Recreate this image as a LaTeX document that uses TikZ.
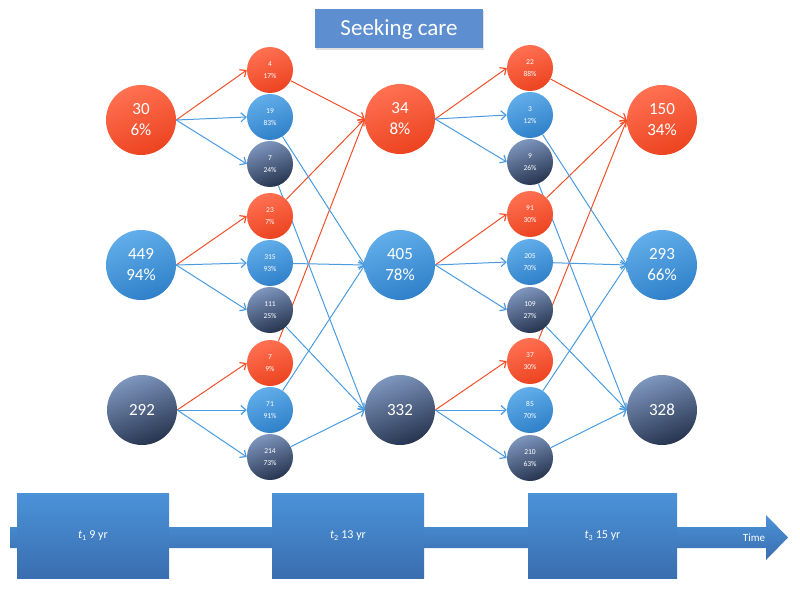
\documentclass[tikz,border=0pt]{standalone}
\usepackage{fontspec}
\setmainfont{Carlito}
\usetikzlibrary{arrows.meta,shadows,backgrounds}
\definecolor{redA}{HTML}{FF7152}
\definecolor{redB}{HTML}{EC4320}
\definecolor{blueA}{HTML}{62AEEA}
\definecolor{blueB}{HTML}{2F80C9}
\definecolor{darkA}{HTML}{7E96BE}
\definecolor{darkB}{HTML}{26344F}
\definecolor{boxA}{HTML}{4B92D8}
\definecolor{boxB}{HTML}{3A6EB0}
\definecolor{redL}{HTML}{F0502A}
\definecolor{blueL}{HTML}{4A9BE0}
\definecolor{titleC}{HTML}{5C8ED0}
\tikzset{
  big/.style={circle, minimum size=70pt, inner sep=0pt, text=white, align=center,
    font=\fontsize{17}{21}\selectfont},
  small/.style={circle, minimum size=46pt, inner sep=0pt, text=white, align=center,
    font=\fontsize{7.5}{12}\selectfont},
  rd/.style={top color=redA, bottom color=redB, shading angle=20},
  bl/.style={top color=blueA, bottom color=blueB, shading angle=20},
  dk/.style={top color=darkA, bottom color=darkB, shading angle=20},
  ar/.style={-{Straight Barb[length=5pt,width=9pt,line width=1.2pt]}, line width=1pt},
  rl/.style={ar, draw=redL},
  bln/.style={ar, draw=blueL},
  tbox/.style={rectangle, minimum height=85pt, inner sep=0pt, top color=boxA,
    bottom color=boxB, text=white, font=\fontsize{12}{14}\selectfont},
}
\begin{document}
\begin{tikzpicture}[x=1pt,y=-1pt]
\useasboundingbox (0,0) rectangle (800,591);
% title
\node[rectangle, fill=titleC, minimum width=168pt, minimum height=39pt, text=white,
  font=\fontsize{23}{26}\selectfont,
  drop shadow={opacity=0.25, shadow xshift=1pt, shadow yshift=-2pt}] (title) at (399,29) {Seeking care};
% column 1
\node[big,rd] (A1) at (141,120) {30\\6\%};
\node[big,bl] (A2) at (141,265) {449\\94\%};
\node[big,dk] (A3) at (142,410) {292};
% column 2
\node[small,rd] (s1) at (270,70) {4\\17\%};
\node[small,bl] (s2) at (270,117) {19\\83\%};
\node[small,dk] (s3) at (270,164) {7\\24\%};
\node[small,rd] (s4) at (270,216) {23\\7\%};
\node[small,bl] (s5) at (270,263) {315\\93\%};
\node[small,dk] (s6) at (270,310) {111\\25\%};
\node[small,rd] (s7) at (270,363) {7\\9\%};
\node[small,bl] (s8) at (270,410) {71\\91\%};
\node[small,dk] (s9) at (270,457) {214\\73\%};
% column 3
\node[big,rd] (B1) at (400,119) {34\\8\%};
\node[big,bl] (B2) at (400,265) {405\\78\%};
\node[big,dk] (B3) at (400,410) {332};
% column 4
\node[small,rd] (u1) at (530,68) {22\\88\%};
\node[small,bl] (u2) at (530,115) {3\\12\%};
\node[small,dk] (u3) at (530,162) {9\\26\%};
\node[small,rd] (u4) at (530,214) {91\\30\%};
\node[small,bl] (u5) at (530,262) {205\\70\%};
\node[small,dk] (u6) at (530,310) {109\\27\%};
\node[small,rd] (u7) at (530,361) {37\\30\%};
\node[small,bl] (u8) at (530,410) {85\\70\%};
\node[small,dk] (u9) at (530,458) {210\\63\%};
% column 5
\node[big,rd] (C1) at (662,120) {150\\34\%};
\node[big,bl] (C2) at (662,265) {293\\66\%};
\node[big,dk] (C3) at (662,410) {328};
\begin{scope}[on background layer]
% col1 -> col2
\draw[rl] (A1.east) -- (s1.west);
\draw[bln] (A1.east) -- (s2.west);
\draw[bln] (A1.east) -- (s3.west);
\draw[rl] (A2.east) -- (s4.west);
\draw[bln] (A2.east) -- (s5.west);
\draw[bln] (A2.east) -- (s6.west);
\draw[rl] (A3.east) -- (s7.west);
\draw[bln] (A3.east) -- (s8.west);
\draw[bln] (A3.east) -- (s9.west);
% col2 -> col3
\draw[rl] (s1) -- (B1.west);
\draw[rl] (s4) -- (B1.west);
\draw[rl] (s7) -- (B1.west);
\draw[bln] (s2) -- (B2.west);
\draw[bln] (s5) -- (B2.west);
\draw[bln] (s8) -- (B2.west);
\draw[bln] (s3) -- (B3.west);
\draw[bln] (s6) -- (B3.west);
\draw[bln] (s9) -- (B3.west);
% col3 -> col4
\draw[rl] (B1.east) -- (u1.west);
\draw[bln] (B1.east) -- (u2.west);
\draw[bln] (B1.east) -- (u3.west);
\draw[rl] (B2.east) -- (u4.west);
\draw[bln] (B2.east) -- (u5.west);
\draw[bln] (B2.east) -- (u6.west);
\draw[rl] (B3.east) -- (u7.west);
\draw[bln] (B3.east) -- (u8.west);
\draw[bln] (B3.east) -- (u9.west);
% col4 -> col5
\draw[rl] (u1) -- (C1.west);
\draw[rl] (u4) -- (C1.west);
\draw[rl] (u7) -- (C1.west);
\draw[bln] (u2) -- (C2.west);
\draw[bln] (u5) -- (C2.west);
\draw[bln] (u8) -- (C2.west);
\draw[bln] (u3) -- (C3.west);
\draw[bln] (u6) -- (C3.west);
\draw[bln] (u9) -- (C3.west);
\end{scope}
% time arrow
\shade[top color=boxA, bottom color=boxB]
  (10,527) -- (766,527) -- (766,515) -- (788,537.5) -- (766,560) -- (766,548) -- (10,548) -- cycle;
\node[tbox, minimum width=152pt] (T1) at (93,535.5) {\textit{t}\textsubscript{1} 9 yr};
\node[tbox, minimum width=152pt] (T2) at (348,535.5) {\textit{t}\textsubscript{2} 13 yr};
\node[tbox, minimum width=149pt] (T3) at (602.5,535.5) {\textit{t}\textsubscript{3} 15 yr};
\node[text=white, font=\fontsize{11}{13}\selectfont] (time) at (754,538) {Time};
\end{tikzpicture}
\end{document}
